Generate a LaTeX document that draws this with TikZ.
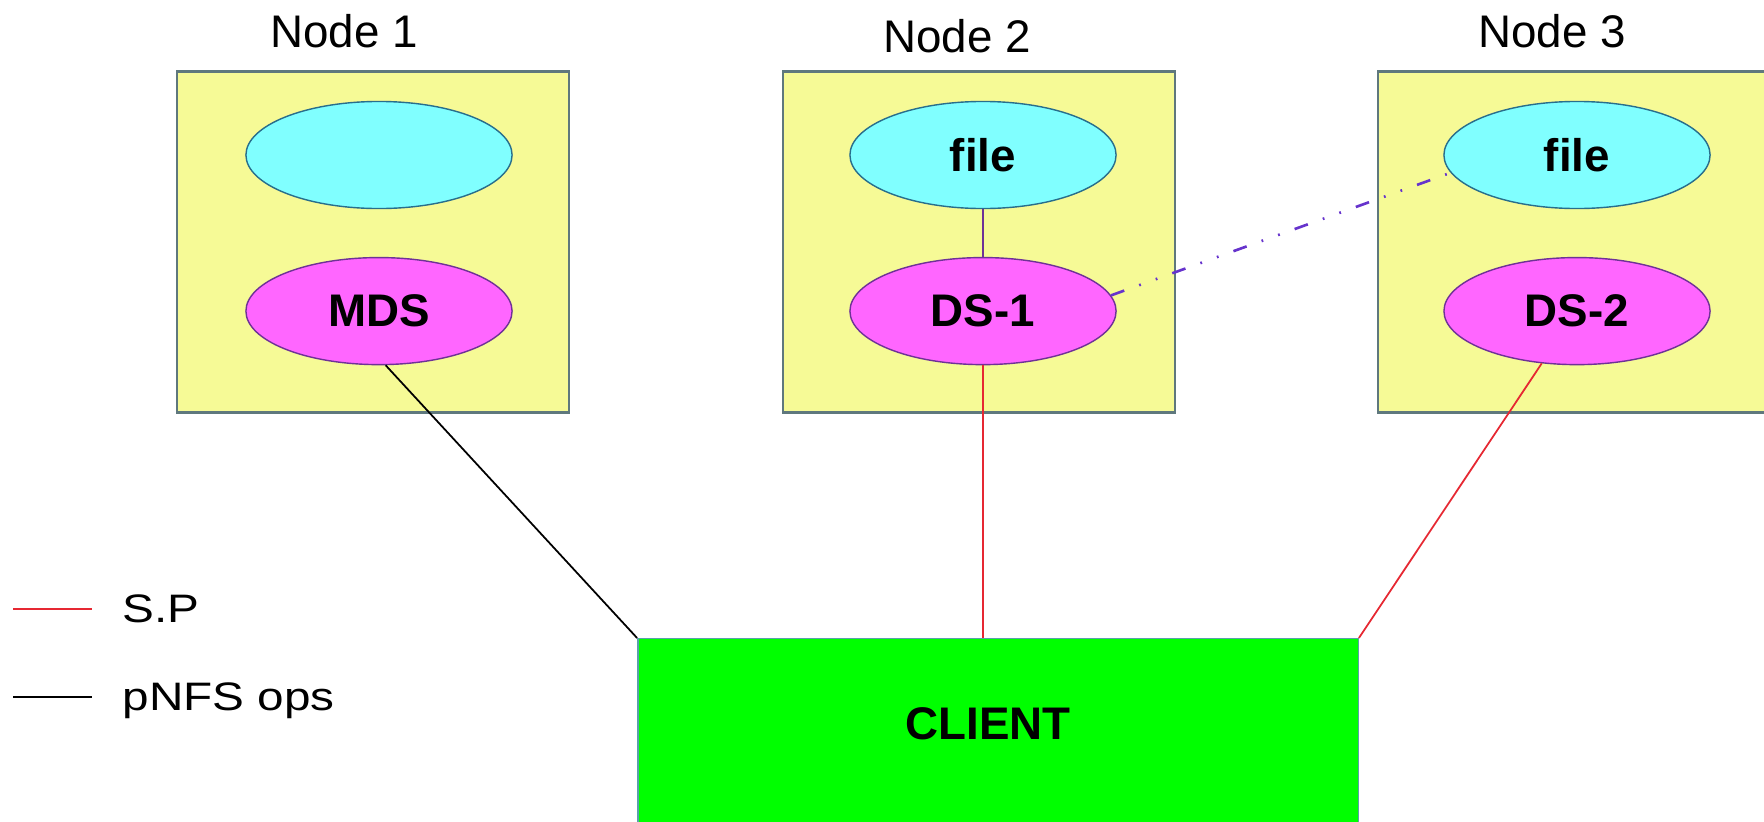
\documentclass[tikz,border=0pt]{standalone}
\usepackage{fontspec}
\setmainfont{Liberation Sans}
\newfontfamily\legendfont[FakeStretch=1.2]{Liberation Sans}
\usetikzlibrary{shapes.geometric, positioning}
\definecolor{hostfill}{RGB}{246,250,150}
\definecolor{hostedge}{RGB}{95,120,125}
\definecolor{filefill}{RGB}{128,255,255}
\definecolor{fileedge}{RGB}{40,110,140}
\definecolor{srvfill}{RGB}{255,102,255}
\definecolor{srvedge}{RGB}{110,50,150}
\definecolor{clientfill}{RGB}{0,255,0}
\definecolor{clientedge}{RGB}{90,160,170}
\definecolor{spred}{RGB}{230,40,50}
\definecolor{stripe}{RGB}{102,51,204}
\tikzset{
	host/.style={
		rectangle, 
		minimum width=3.92cm, 
		minimum height=3.41cm, 
		draw=hostedge, 
		line width=0.7pt,
		fill=hostfill
	},
	filenode/.style={
		ellipse, 
		minimum width=2.66cm, 
		minimum height=1.07cm, 
		inner sep=0pt,
		text centered, 
		draw=fileedge, 
		fill=filefill,
		font=\fontsize{13}{15}\selectfont\bfseries
	},
	server/.style={
		filenode, 
		draw=srvedge, 
		fill=srvfill
	},
	clientbox/.style={
		rectangle, 
		minimum width=7.2cm, 
		minimum height=1.9cm, 
		draw=clientedge, 
		fill=clientfill
	},
	hostlabel/.style={font=\fontsize{13}{15}\selectfont},
	legend/.style={inner sep=0pt, font=\legendfont\fontsize{11.3}{13}\selectfont},
	splink/.style={draw=spred, line width=0.5pt},
	opslink/.style={draw=black, line width=0.5pt},
	stripelink/.style={draw=stripe, line width=0.75pt,
		dash pattern=on 4pt off 4.5pt on 0.5pt off 4.5pt on 0.5pt off 4.5pt}
}

\begin{document}
\begin{tikzpicture}[x=0.01cm, y=-0.01cm, node distance=1.56cm]
	\useasboundingbox (0,0) rectangle (1764,821);
	% the three hosts
	\node (host1) [host] at (373,242) {};
	\node (host2) [host] at (979,242) {};
	\node (host3) [host] at (1574,242) {};
	\node (name1) [hostlabel] at (344,31) {Node 1};
	\node (name2) [hostlabel] at (957,36) {Node 2};
	\node (name3) [hostlabel] at (1552,31) {Node 3};
	
	\node (file1) [filenode] at (379,155) {};
	\node (mds) [server, below of=file1] {MDS};
	\node (file2) [filenode] at (983,155) {file};
	\node (ds1) [server, below of=file2] {DS-1};
	\node (file3) [filenode] at (1577,155) {file};
	\node (ds2) [server, below of=file3] {DS-2};
	
	\node (client) [clientbox, anchor=north,
		label={[xshift=-0.1cm, yshift=0.1cm, font=\fontsize{13}{15}\selectfont\bfseries]center:CLIENT}] at (998,638) {};
	
	% links
	\draw [draw=srvedge, line width=0.5pt] (file2) -- (ds1);
	\draw [stripelink] (ds1.7) -- (file3.-172);
	\draw [opslink] (mds.-83) -- (client.north west);
	\draw [splink] (ds1.south) -- (ds1.south |- client.north);
	\draw [splink] (ds2.-124) -- (client.north east);
	
	% legend
	\coordinate (spa) at (13,609);
	\coordinate (spb) at (92,609);
	\coordinate (opsa) at (13,697);
	\coordinate (opsb) at (92,697);
	\draw [splink] (spa) -- (spb);
	\draw [opslink] (opsa) -- (opsb);
	\node (sp) [legend, right=0.3cm of spb] {S.P};
	\node (ops) [legend, right=0.3cm of opsb, text depth=0pt] {pNFS ops};
\end{tikzpicture}
\end{document}
